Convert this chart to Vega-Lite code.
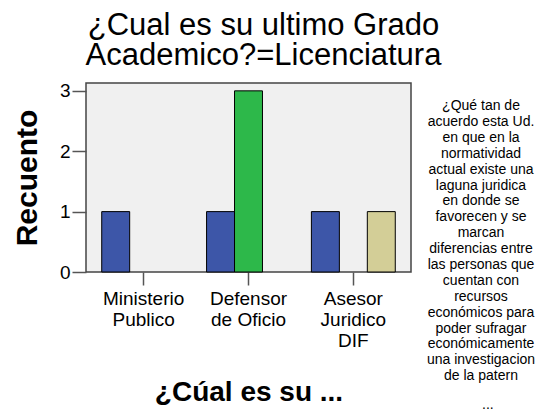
{
  "$schema": "https://vega.github.io/schema/vega-lite/v6.json",
  "width": 325,
  "height": 189,
  "autosize": {"type": "none"},
  "padding": {"left": 86, "top": 83, "right": 128, "bottom": 139},
  "background": "white",
  "config": {
    "view": {"fill": "#f0f0f0", "stroke": "#444444", "strokeWidth": 1.5},
    "font": "Liberation Sans"
  },
  "title": {
    "text": ["¿Cual es su ultimo Grado", "Academico?=Licenciatura"],
    "fontSize": 31,
    "fontWeight": "normal",
    "lineHeight": 30,
    "color": "black",
    "anchor": "middle",
    "frame": "group",
    "dx": 15,
    "offset": 10
  },
  "data": {
    "values": [
      {"puesto": "Ministerio|Publico", "respuesta": "Totalmente de acuerdo", "recuento": 1},
      {"puesto": "Defensor|de Oficio", "respuesta": "Totalmente de acuerdo", "recuento": 1},
      {"puesto": "Defensor|de Oficio", "respuesta": "De acuerdo", "recuento": 3},
      {"puesto": "Asesor|Juridico|DIF", "respuesta": "Totalmente de acuerdo", "recuento": 1},
      {"puesto": "Asesor|Juridico|DIF", "respuesta": "Ni de acuerdo ni en desacuerdo", "recuento": 1}
    ]
  },
  "mark": {"type": "bar", "stroke": "black", "strokeWidth": 1},
  "encoding": {
    "x": {
      "field": "puesto",
      "type": "nominal",
      "sort": ["Ministerio|Publico", "Defensor|de Oficio", "Asesor|Juridico|DIF"],
      "scale": {"paddingInner": 0.2, "paddingOuter": 0.15},
      "axis": {
        "labelExpr": "split(datum.value, '|')",
        "labelAngle": 0,
        "labelFontSize": 19,
        "labelLineHeight": 21,
        "labelColor": "black",
        "tickSize": 13,
        "tickColor": "#555555",
        "tickWidth": 1.5,
        "domain": false,
        "labelPadding": 4,
        "title": "¿Cúal es su ...",
        "titleFontSize": 28,
        "titleFontWeight": "bold",
        "titleColor": "black",
        "titlePadding": 28
      }
    },
    "xOffset": {
      "field": "respuesta",
      "type": "nominal",
      "sort": ["Totalmente de acuerdo", "De acuerdo", "Ni de acuerdo ni en desacuerdo"],
      "scale": {"paddingInner": 0, "paddingOuter": 0}
    },
    "y": {
      "field": "recuento",
      "type": "quantitative",
      "scale": {"domain": [0, 3.13], "nice": false, "zero": true},
      "axis": {
        "values": [0, 1, 2, 3],
        "format": "d",
        "labelFontSize": 19,
        "labelColor": "black",
        "tickSize": 14,
        "tickColor": "#555555",
        "tickWidth": 1.5,
        "labelPadding": 2,
        "grid": false,
        "domain": false,
        "title": "Recuento",
        "titleFontSize": 30,
        "titleFontWeight": "bold",
        "titleColor": "black",
        "titlePadding": 17
      }
    },
    "color": {
      "field": "respuesta",
      "type": "nominal",
      "scale": {
        "domain": ["Totalmente de acuerdo", "De acuerdo", "Ni de acuerdo ni en desacuerdo"],
        "range": ["#3d56a8", "#2db84a", "#d3ce97"]
      },
      "legend": {
        "orient": "none",
        "legendX": 341,
        "legendY": 16,
        "padding": 0,
        "title": [
          "¿Qué tan de",
          "acuerdo esta Ud.",
          "en que en la",
          "normatividad",
          "actual existe una",
          "laguna juridica",
          "en donde se",
          "favorecen y se",
          "marcan",
          "diferencias entre",
          "las personas que",
          "cuentan con",
          "recursos",
          "económicos para",
          "poder sufragar",
          "económicamente",
          "una investigacion",
          "de la patern"
        ],
        "titleFontSize": 14,
        "titleFontWeight": "normal",
        "titleColor": "black",
        "titleLineHeight": 15.9,
        "titleAlign": "center",
        "titleAnchor": "middle",
        "titleLimit": 300,
        "titlePadding": 15,
        "symbolOpacity": 0,
        "symbolStrokeWidth": 0,
        "symbolSize": 1,
        "labelExpr": "datum.value == 'Totalmente de acuerdo' ? '...' : ''",
        "labelFontSize": 14,
        "labelColor": "black",
        "labelOffset": 0
      }
    }
  }
}
